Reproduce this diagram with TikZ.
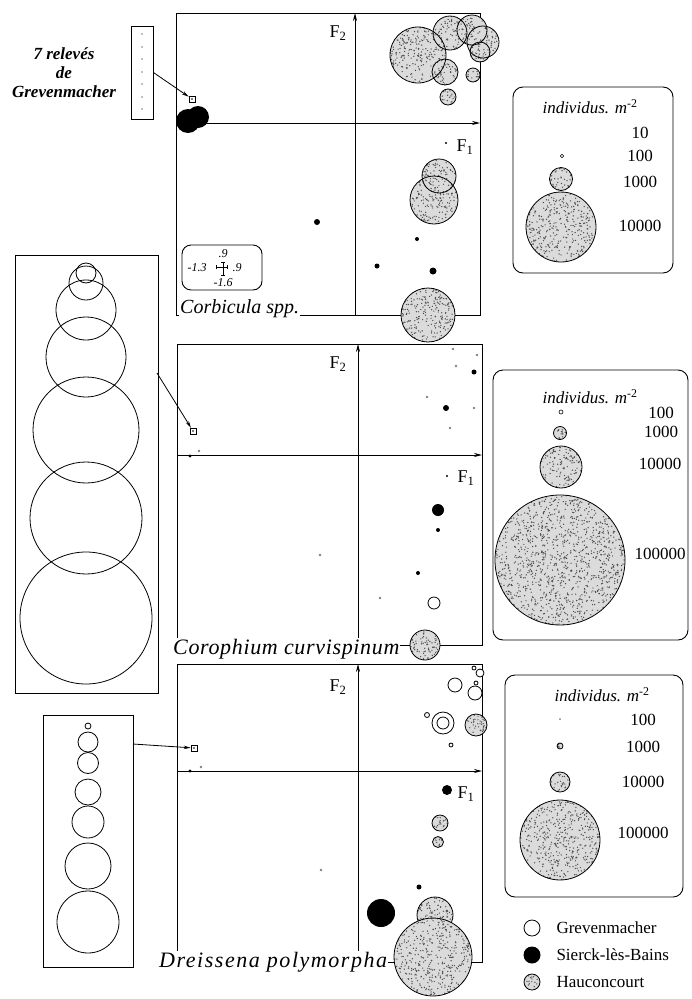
\documentclass[tikz,border=0pt]{standalone}
\usepackage{fontspec}
\setmainfont{Liberation Serif}
\newfontfamily\spacedmid[LetterSpace=3]{Liberation Serif}
\newfontfamily\spacedwide[LetterSpace=7]{Liberation Serif}
\usetikzlibrary{arrows.meta}

% stippled disc (Hauconcourt): fill only
\newcommand{\stipfill}[3]{%
  \fill[gray!28] (#1,#2) circle (#3);
  \begin{scope}
    \clip (#1,#2) circle (#3);
    \pgfmathtruncatemacro{\ndots}{#3*#3/3+4}
    \foreach \k in {1,...,\ndots}
      \fill[black!70] ({#1+#3*(2*rnd-1)},{#2+#3*(2*rnd-1)}) circle (0.7);
  \end{scope}}
% stippled disc with its outline
\newcommand{\stipple}[3]{\stipfill{#1}{#2}{#3}\draw[ring] (#1,#2) circle (#3);}

\begin{document}
\begin{tikzpicture}[x=1pt, y=-1pt,
  frame/.style={line width=0.9pt},
  axis/.style={line width=0.8pt, -{Stealth[length=8pt,width=4pt]}},
  link/.style={line width=0.8pt, -{Stealth[length=7pt,width=3.5pt]}},
  ring/.style={line width=0.8pt},
  marker/.style={draw, line width=0.6pt, minimum size=6pt, inner sep=0pt},
  inset/.style={draw, line width=0.9pt, inner sep=0pt},
  legend/.style={draw, line width=0.9pt, rounded corners=10pt},
  species/.style={font=\fontsize{20}{20}\selectfont\itshape, fill=white, inner sep=1pt, anchor=base west},
  faxis/.style={font=\fontsize{18}{18}\selectfont},
  title/.style={font=\fontsize{17}{17}\selectfont\itshape},
  value/.style={font=\fontsize{17}{17}\selectfont, inner sep=0pt},
  keytext/.style={font=\fontsize{17}{17}\selectfont, anchor=west}]

\useasboundingbox (0,0) rectangle (691,999);
\pgfmathsetseed{11}

%%%%%%%%%%%%%%%%%%%%%%%%%%%% Corbicula
% Frame and axes
\draw[frame] (176,13) rectangle (480,315);
\draw[axis] (355,315) -- (355,13);
\draw[axis] (176,123) -- (480,123);
\node[faxis] (f2a) at (338,33) {F\textsubscript{2}};
\node[faxis] (f1a) at (465,147) {F\textsubscript{1}};
\fill (446,143) circle (1.2);

% Hauconcourt
\foreach \x/\y/\r in {418/55/28, 450/33/17, 472/30/15, 483/42/16, 480/52/10,
  445/72/13, 473/75/7, 448/97/8, 439/176/17, 434/200/24, 428/315/27}
  {\stipfill{\x}{\y}{\r}}
\foreach \x/\y/\r in {418/55/28, 450/33/17, 472/30/15, 483/42/16, 480/52/10,
  445/72/13, 473/75/7, 448/97/8, 439/176/17, 434/200/24, 428/315/27}
  {\draw[ring] (\x,\y) circle (\r);}

% Sierck-les-Bains
\fill (188,121) circle (12);
\fill (198,117) circle (11);
\foreach \x/\y/\r in {317/222/3, 417/239/2, 377/266/2.5, 433/271/3.5}
  {\fill (\x,\y) circle (\r);}

% Grevenmacher (7 releves)
\node[marker] (mcorb) at (192,99) {};
\fill (mcorb) circle (0.8);
\node[inset, minimum width=22pt, minimum height=93pt] (relbox) at (142,72.5) {};
\foreach \y in {34,47,59,72,84,97,109}
  {\fill[gray] (142,\y) circle (0.9);}
\draw[link] (relbox.east) -- (mcorb);
\node[font=\fontsize{17}{19}\selectfont\bfseries\itshape, align=center] (relnote) at (64,73) {7 relevés\\de\\Grevenmacher};

% scale cross
\draw[legend, rounded corners=9pt] (182,245) rectangle (262,290);
\draw[line width=0.7pt] (216.5,267) -- (227.5,267) (223,262.5) -- (223,275)
  (216.5,265) -- (216.5,269) (227.5,265) -- (227.5,269)
  (221,262.5) -- (225,262.5) (221,275) -- (225,275);
\node[font=\fontsize{12}{12}\selectfont\itshape] (ctop) at (223,254) {.9};
\node[font=\fontsize{12}{12}\selectfont\itshape] (cleft) at (197,268) {-1.3};
\node[font=\fontsize{12}{12}\selectfont\itshape] (cright) at (237,268) {.9};
\node[font=\fontsize{12}{12}\selectfont\itshape] (cbot) at (223,283) {-1.6};

\node[species] (corb) at (179,313) {Corbicula spp.};

% legend
\draw[legend] (513,87) rectangle (673,273);
\node[title] (ttla) at (590,107) {individus. m\textsuperscript{\upshape -2}};
\node[value] (va1) at (640,133) {10};
\node[value] (va2) at (640,156) {100};
\node[value] (va3) at (640,182) {1000};
\node[value] (va4) at (640,226) {10000};
\draw[line width=0.6pt] (562,156) circle (1.8);
\stipple{561}{179}{11.5}
\stipple{561}{227}{35}

%%%%%%%%%%%%%%%%%%%%%%%%%%%% Corophium
\draw[frame] (177,344) rectangle (482,645);
\draw[axis] (358,645) -- (358,344);
\draw[axis] (177,455) -- (482,455);
\node[faxis] (f2b) at (338,364) {F\textsubscript{2}};
\node[faxis] (f1b) at (466,478) {F\textsubscript{1}};
\fill (447,476) circle (1.2);

% small grey points
\foreach \x/\y in {199/451, 453/349, 456/366, 477/355, 427/397, 474/408,
  450/428, 320/555, 380/598}
  {\fill[gray] (\x,\y) circle (1.3);}
% Sierck-les-Bains
\foreach \x/\y/\r in {190/456/1.6, 474/372/2.5, 446/408/3, 438/510/6,
  438/530/2, 418/573/2}
  {\fill (\x,\y) circle (\r);}
% Grevenmacher
\draw[ring, fill=white] (434,603) circle (6);
\node[marker] (mcoro) at (193,431) {};
\fill (mcoro) circle (0.8);
% Hauconcourt
\stipple{425}{645}{15}

% inset: 7 releves
\node[inset, minimum width=143pt, minimum height=438pt] (corobox) at (86.5,474) {};
\foreach \y/\r in {273/10, 283/17, 310/30, 357/40, 430/53, 518/56, 618/66}
  {\draw[ring] (86,\y) circle (\r);}
\coordinate (corofrom) at (157,373);
\draw[link] (corofrom) -- (mcoro);

\node[species, font=\fontsize{22}{22}\spacedmid\itshape] (coro) at (172,654) {Corophium curvispinum};

% legend
\draw[legend] (493,370) rectangle (688,640);
\node[title] (ttlb) at (590,397) {individus. m\textsuperscript{\upshape -2}};
\node[value] (vb1) at (661,413) {100};
\node[value] (vb2) at (661,432) {1000};
\node[value] (vb3) at (660,464) {10000};
\node[value] (vb4) at (660,554) {100000};
\draw[line width=0.6pt] (561,412) circle (2);
\stipple{560}{433}{6.5}
\stipple{561}{467}{21}
\stipple{560}{560}{65}

%%%%%%%%%%%%%%%%%%%%%%%%%%%% Dreissena
\draw[frame] (177,664) rectangle (482,962);
\draw[axis] (358,962) -- (358,664);
\draw[axis] (177,771) -- (482,771);
\node[faxis] (f2c) at (338,687) {F\textsubscript{2}};
\node[faxis] (f1c) at (466,794) {F\textsubscript{1}};
\fill (447,790) circle (5);

\fill[gray] (201,767) circle (1.3);
\fill[gray] (321,870) circle (1.3);
\fill (190,771) circle (1.6);
\node[marker] (mdrei) at (194,748) {};
\fill (mdrei) circle (0.8);

% Grevenmacher
\foreach \x/\y/\r in {455/685/7, 475/693/7, 480/673/4, 474/668/2, 476/683/2,
  443/723/11, 443/723/6, 427/715/2.5, 451/745/2}
  {\draw[ring, fill=white] (\x,\y) circle (\r);}
% Hauconcourt
\stipple{476}{725}{11}
\stipple{440}{823}{8}
\stipple{438}{842}{5.5}
\stipple{435}{915}{18}
\stipple{433}{957}{39}
% Sierck-les-Bains
\fill (419,887) circle (2.5);
\fill (381,913) circle (14);

% inset: 7 releves
\node[inset, minimum width=90pt, minimum height=252pt] (dreibox) at (88,841) {};
\foreach \y/\r in {726/3, 742/10, 763/10.5, 792/13, 822/16, 866/23, 922/31}
  {\draw[ring] (88,\y) circle (\r);}
\coordinate (dreifrom) at (133,744);
\draw[link] (dreifrom) -- (mdrei);

\node[species, font=\fontsize{22}{22}\spacedwide\itshape] (drei) at (158,967) {Dreissena polymorpha};

% legend
\draw[legend] (505,675) rectangle (683,897);
\node[title] (ttlc) at (602,695) {individus. m\textsuperscript{\upshape -2}};
\node[value] (vc1) at (643,720) {100};
\node[value] (vc2) at (643,747) {1000};
\node[value] (vc3) at (643,782) {10000};
\node[value] (vc4) at (643,833) {100000};
\fill[gray] (560,719) circle (1);
\stipple{560}{746}{3}
\stipple{560}{782}{10}
\stipple{560}{840}{40}

% key
\draw[ring, fill=white] (532,928) circle (8);
\node[keytext] (kgrev) at (553,928) {Grevenmacher};
\fill (532,955) circle (8.5);
\node[keytext] (ksier) at (553,955) {Sierck-lès-Bains};
\stipple{532}{982}{8}
\node[keytext] (khauc) at (553,982) {Hauconcourt};

\end{tikzpicture}
\end{document}
